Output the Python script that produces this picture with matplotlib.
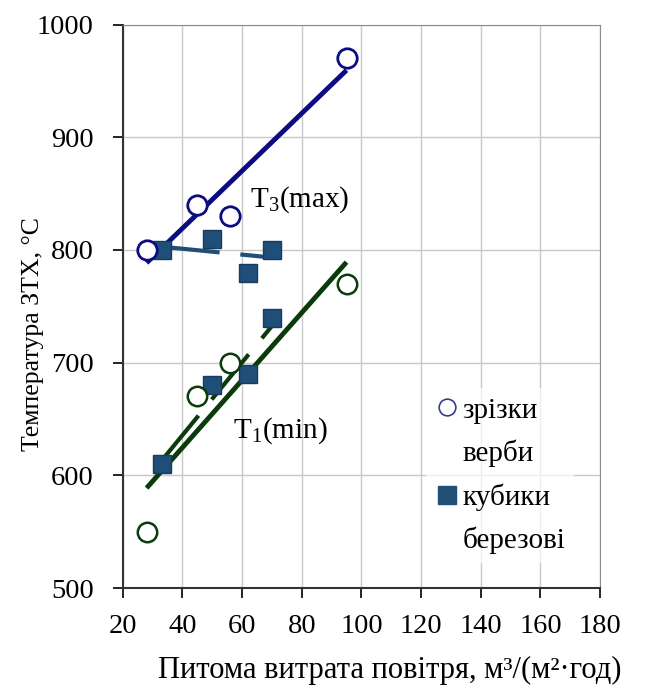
import numpy as np
import matplotlib
matplotlib.use('Agg')
import matplotlib.pyplot as plt
from matplotlib.lines import Line2D

plt.rcParams['font.family'] = ['Liberation Serif', 'DejaVu Serif']
plt.rcParams['mathtext.fontset'] = 'custom'
plt.rcParams['mathtext.rm'] = 'Liberation Serif'

# зрізки верби (circles)
willow_x     = [28, 45, 56, 95]
willow_tmax  = [800, 840, 830, 970]
willow_tmin  = [550, 670, 700, 770]
# кубики березові (squares)
birch_x      = [33, 50, 62, 70]
birch_tmax   = [800, 810, 780, 800]
birch_tmin   = [610, 680, 690, 740]

x_ticks = [20, 40, 60, 80, 100, 120, 140, 160, 180]
y_ticks = [500, 600, 700, 800, 900, 1000]

navy   = '#0c0c82'
green  = '#0b3a0b'
steel  = '#1f4e79'

fig = plt.figure(figsize=(6.46, 6.93), dpi=100)
ax = fig.add_axes([0.190, 0.1515, 0.739, 0.813])

def trend(x, y, **kw):
    k, b = np.polyfit(x, y, 1)
    xs = np.array([min(x), max(x)])
    ax.plot(xs, k * xs + b, zorder=2, **kw)

# trend lines
trend(willow_x, willow_tmax, color=navy, lw=3.5, solid_capstyle='butt')
trend(willow_x, willow_tmin, color=green, lw=3.5, solid_capstyle='butt')
trend(birch_x, birch_tmax, color=steel, lw=3, dashes=(14, 5))
trend(birch_x, birch_tmin, color=green, lw=3, dashes=(14, 5))

# points
ax.plot(willow_x, willow_tmax, 'o', ms=14, mfc='white', mec=navy, mew=2, zorder=4)
ax.plot(willow_x, willow_tmin, 'o', ms=14, mfc='white', mec=green, mew=1.8, zorder=4)
ax.plot(birch_x, birch_tmax, 's', ms=13, mfc=steel, mec='#173c5e', mew=1, zorder=3)
ax.plot(birch_x, birch_tmin, 's', ms=13, mfc=steel, mec='#173c5e', mew=1, zorder=3)

ax.text(62.5, 845, r'T$_\mathregular{3}$(max)', fontsize=21, va='center')
ax.text(57, 640, r'T$_\mathregular{1}$(min)', fontsize=21, va='center')

ax.set_xlim(20, 180)
ax.set_ylim(500, 1000)
ax.set_xticks(x_ticks)
ax.set_yticks(y_ticks)
ax.grid(True, color='#c8c8c8', lw=1)
ax.set_axisbelow(True)
ax.tick_params(axis='both', labelsize=20.5, direction='out', length=7, width=1.2, colors='black')
ax.tick_params(axis='x', pad=12)
ax.tick_params(axis='y', pad=14)
for s in ['top', 'right']:
    ax.spines[s].set_color('#8c8c8c')
for s in ['left', 'bottom']:
    ax.spines[s].set_color('#333333')
    ax.spines[s].set_linewidth(1.5)

ax.set_xlabel('Питома витрата повітря, м³/(м²·год)', fontsize=22)
ax.xaxis.set_label_coords(0.56, -0.12)
ax.set_ylabel('Температура ЗТХ, °C', fontsize=18.5)
ax.yaxis.set_label_coords(-0.165, 0.45)

blank = Line2D([], [], ls='none', marker=None)
handles = [
    Line2D([], [], ls='none', marker='o', ms=12, mfc='white', mec='#3a3a90', mew=1.2),
    blank,
    Line2D([], [], ls='none', marker='s', ms=13, mfc=steel, mec=steel),
    blank,
]
ax.legend(handles, ['зрізки', 'верби', 'кубики', 'березові'], loc='upper left',
          bbox_to_anchor=(0.605, 0.38), frameon=True, framealpha=0.7,
          edgecolor='none', fontsize=21, handlelength=0.8, handletextpad=0.15,
          labelspacing=0.55, borderpad=0.3)

plt.savefig('out.png', dpi=100)
